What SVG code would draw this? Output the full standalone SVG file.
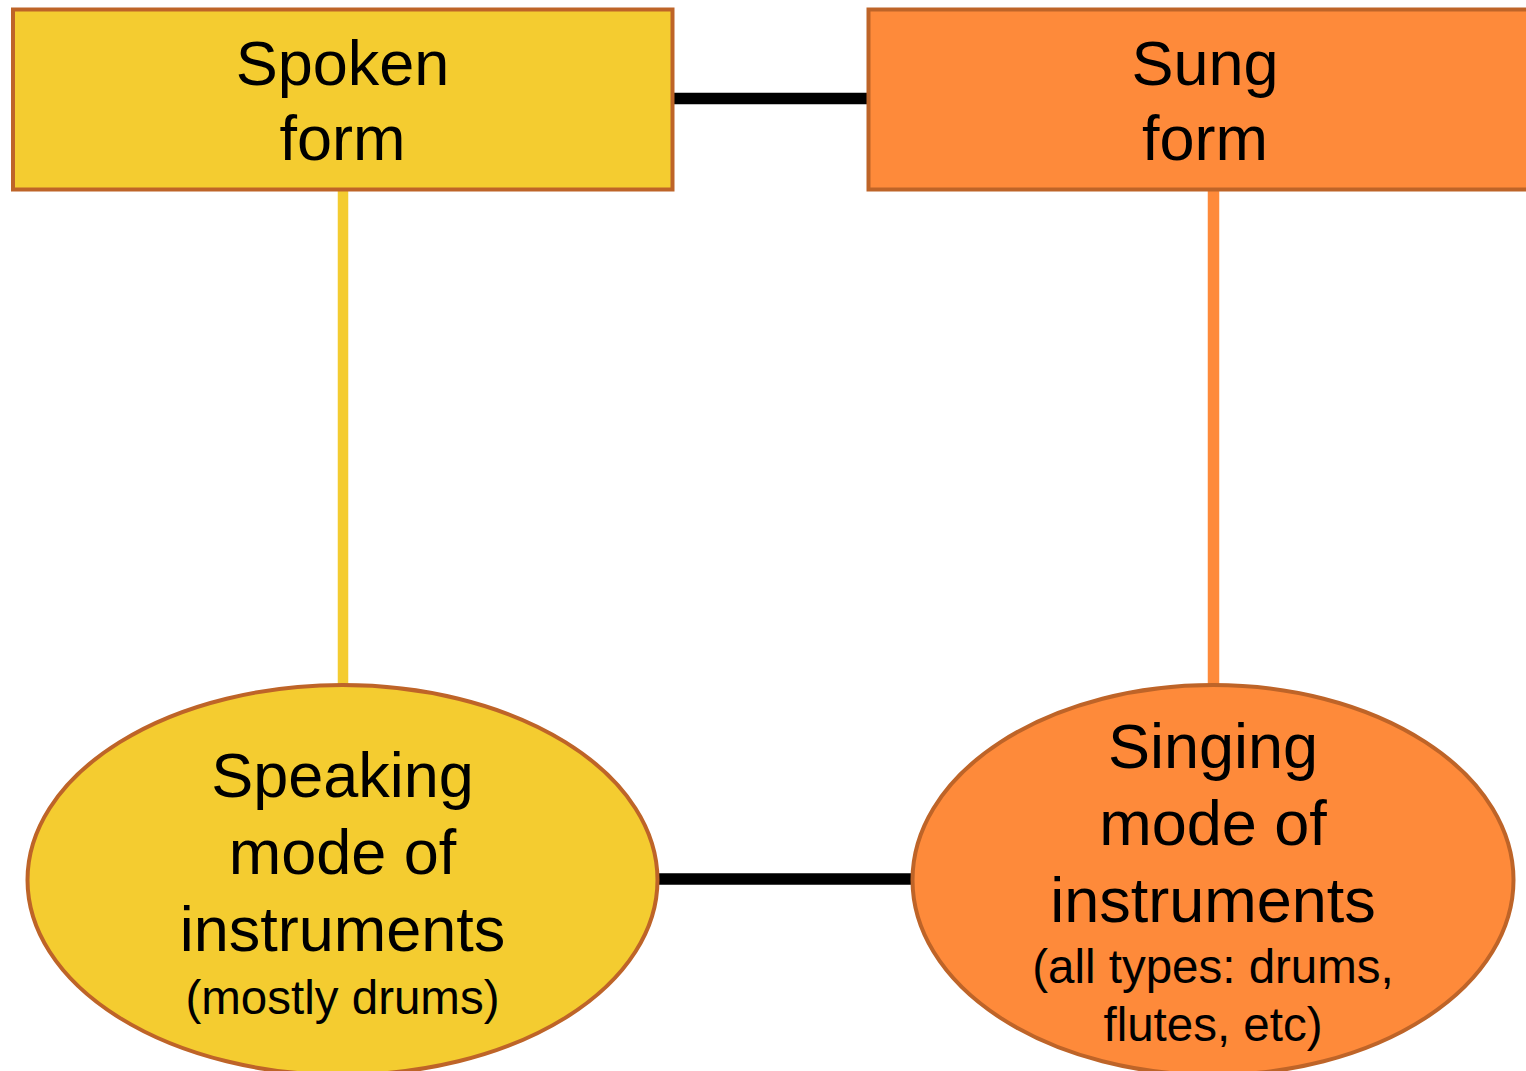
<svg xmlns="http://www.w3.org/2000/svg" width="1526" height="1071" viewBox="0 0 1526 1071">
  <style>
    .spoken { fill: #F4CC30; stroke: #BE6428; stroke-width: 4; }
    .sung { fill: #FE8A3A; stroke: #BE6428; stroke-width: 4; }
    .label { font-family: "Liberation Sans", Arial, sans-serif; fill: #000; text-anchor: middle; }
    .big { font-size: 63px; }
    .small { font-size: 47.5px; }
    .link { stroke: #000; stroke-width: 11.5; fill: none; }
  </style>
  <rect width="1526" height="1071" fill="#fff"/>

  <!-- connectors -->
  <g id="connectors">
    <line class="link" x1="672" y1="98.5" x2="869" y2="98.5"/>
    <line class="link" x1="656" y1="879" x2="914" y2="879"/>
    <line x1="343" y1="190" x2="343" y2="686" stroke="#F4CC30" stroke-width="10.5"/>
    <line x1="1213.5" y1="190" x2="1213.5" y2="686" stroke="#FE8A3A" stroke-width="11.5"/>
  </g>

  <!-- spoken form -->
  <g id="spoken-form">
    <rect class="spoken" x="13" y="9.5" width="659.5" height="180"/>
    <text class="label big" x="342.5" y="85">Spoken</text>
    <text class="label big" x="342.5" y="160">form</text>
  </g>

  <!-- sung form -->
  <g id="sung-form">
    <rect class="sung" x="868.5" y="9.5" width="674" height="180"/>
    <text class="label big" x="1205" y="85">Sung</text>
    <text class="label big" x="1205" y="160">form</text>
  </g>

  <!-- speaking mode -->
  <g id="speaking-mode">
    <ellipse class="spoken" cx="342.5" cy="880" rx="315" ry="195"/>
    <text class="label big" x="342.5" y="797">Speaking</text>
    <text class="label big" x="342.5" y="874">mode of</text>
    <text class="label big" x="342.5" y="951">instruments</text>
    <text class="label small" x="342.5" y="1014">(mostly drums)</text>
  </g>

  <!-- singing mode -->
  <g id="singing-mode">
    <ellipse class="sung" cx="1213" cy="880" rx="300.5" ry="195"/>
    <text class="label big" x="1213" y="768">Singing</text>
    <text class="label big" x="1213" y="845">mode of</text>
    <text class="label big" x="1213" y="922">instruments</text>
    <text class="label small" x="1213" y="983">(all types: drums,</text>
    <text class="label small" x="1213" y="1041">flutes, etc)</text>
  </g>
</svg>
